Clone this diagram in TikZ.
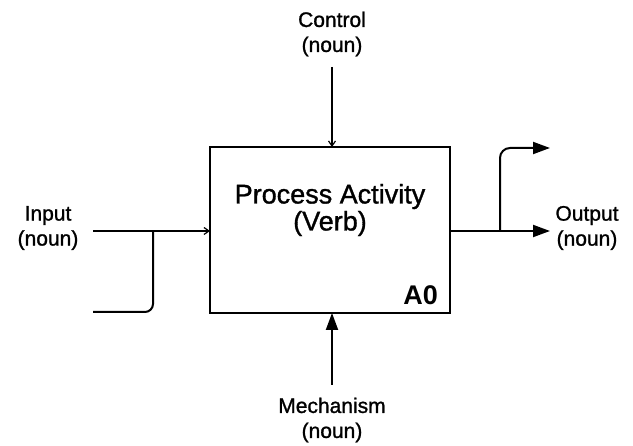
\documentclass[tikz,border=0pt]{standalone}
\usepackage{fontspec}
\setmainfont{Liberation Sans}
\newfontfamily\heavyfont[FakeBold=1.2]{Liberation Sans}
\usetikzlibrary{arrows.meta}
\begin{document}
\begin{tikzpicture}[x=1pt,y=-1pt,
  lbl/.style={align=center,font=\heavyfont\fontsize{21}{25}\selectfont,inner sep=0pt},
  flow/.style={line width=2pt},
  bigtip/.style={-{Triangle[length=17pt,width=12pt]}},
  smalltip/.style={-{Straight Barb[length=5pt,width=7pt,line width=1.2pt]}}]
\useasboundingbox (0,0) rectangle (633,446);
\node[draw,line width=2.5pt,minimum width=240pt,minimum height=166pt,inner sep=0pt] (box) at (330,230) {};
\node[align=center,font=\heavyfont\fontsize{27}{27}\selectfont] (title) at (330,210) {Process Activity\\(Verb)};
\node[font=\bfseries\fontsize{27}{27}\selectfont,anchor=south east,inner sep=0pt] (a0) at (438,305) {A0};
% Control
\node[lbl] (ctl) at (332,34) {Control\\(noun)};
\coordinate (ctls) at (332,67);
\coordinate (ctle) at (332,147);
\draw[flow,smalltip] (ctls) -- (ctle);
% Mechanism
\node[lbl] (mech) at (332,420) {Mechanism\\(noun)};
\coordinate (mechs) at (332,385);
\coordinate (meche) at (332,313);
\draw[flow,bigtip] (mechs) -- (meche);
% Input
\node[lbl] (inp) at (48,228) {Input\\(noun)};
\coordinate (ins) at (93,231);
\coordinate (ine) at (210,231);
\coordinate (inj) at (153,231);
\coordinate (inb) at (93,312);
\draw[flow,smalltip] (ins) -- (ine);
\draw[flow,rounded corners=8pt] (inj) |- (inb);
% Output
\node[lbl] (outp) at (587,228) {Output\\(noun)};
\coordinate (outs) at (450,231);
\coordinate (oute) at (550,231);
\coordinate (outj) at (500,231);
\coordinate (outt) at (550,148);
\draw[flow,bigtip] (outs) -- (oute);
\draw[flow,bigtip,rounded corners=10pt] (outj) |- (outt);
\end{tikzpicture}
\end{document}
